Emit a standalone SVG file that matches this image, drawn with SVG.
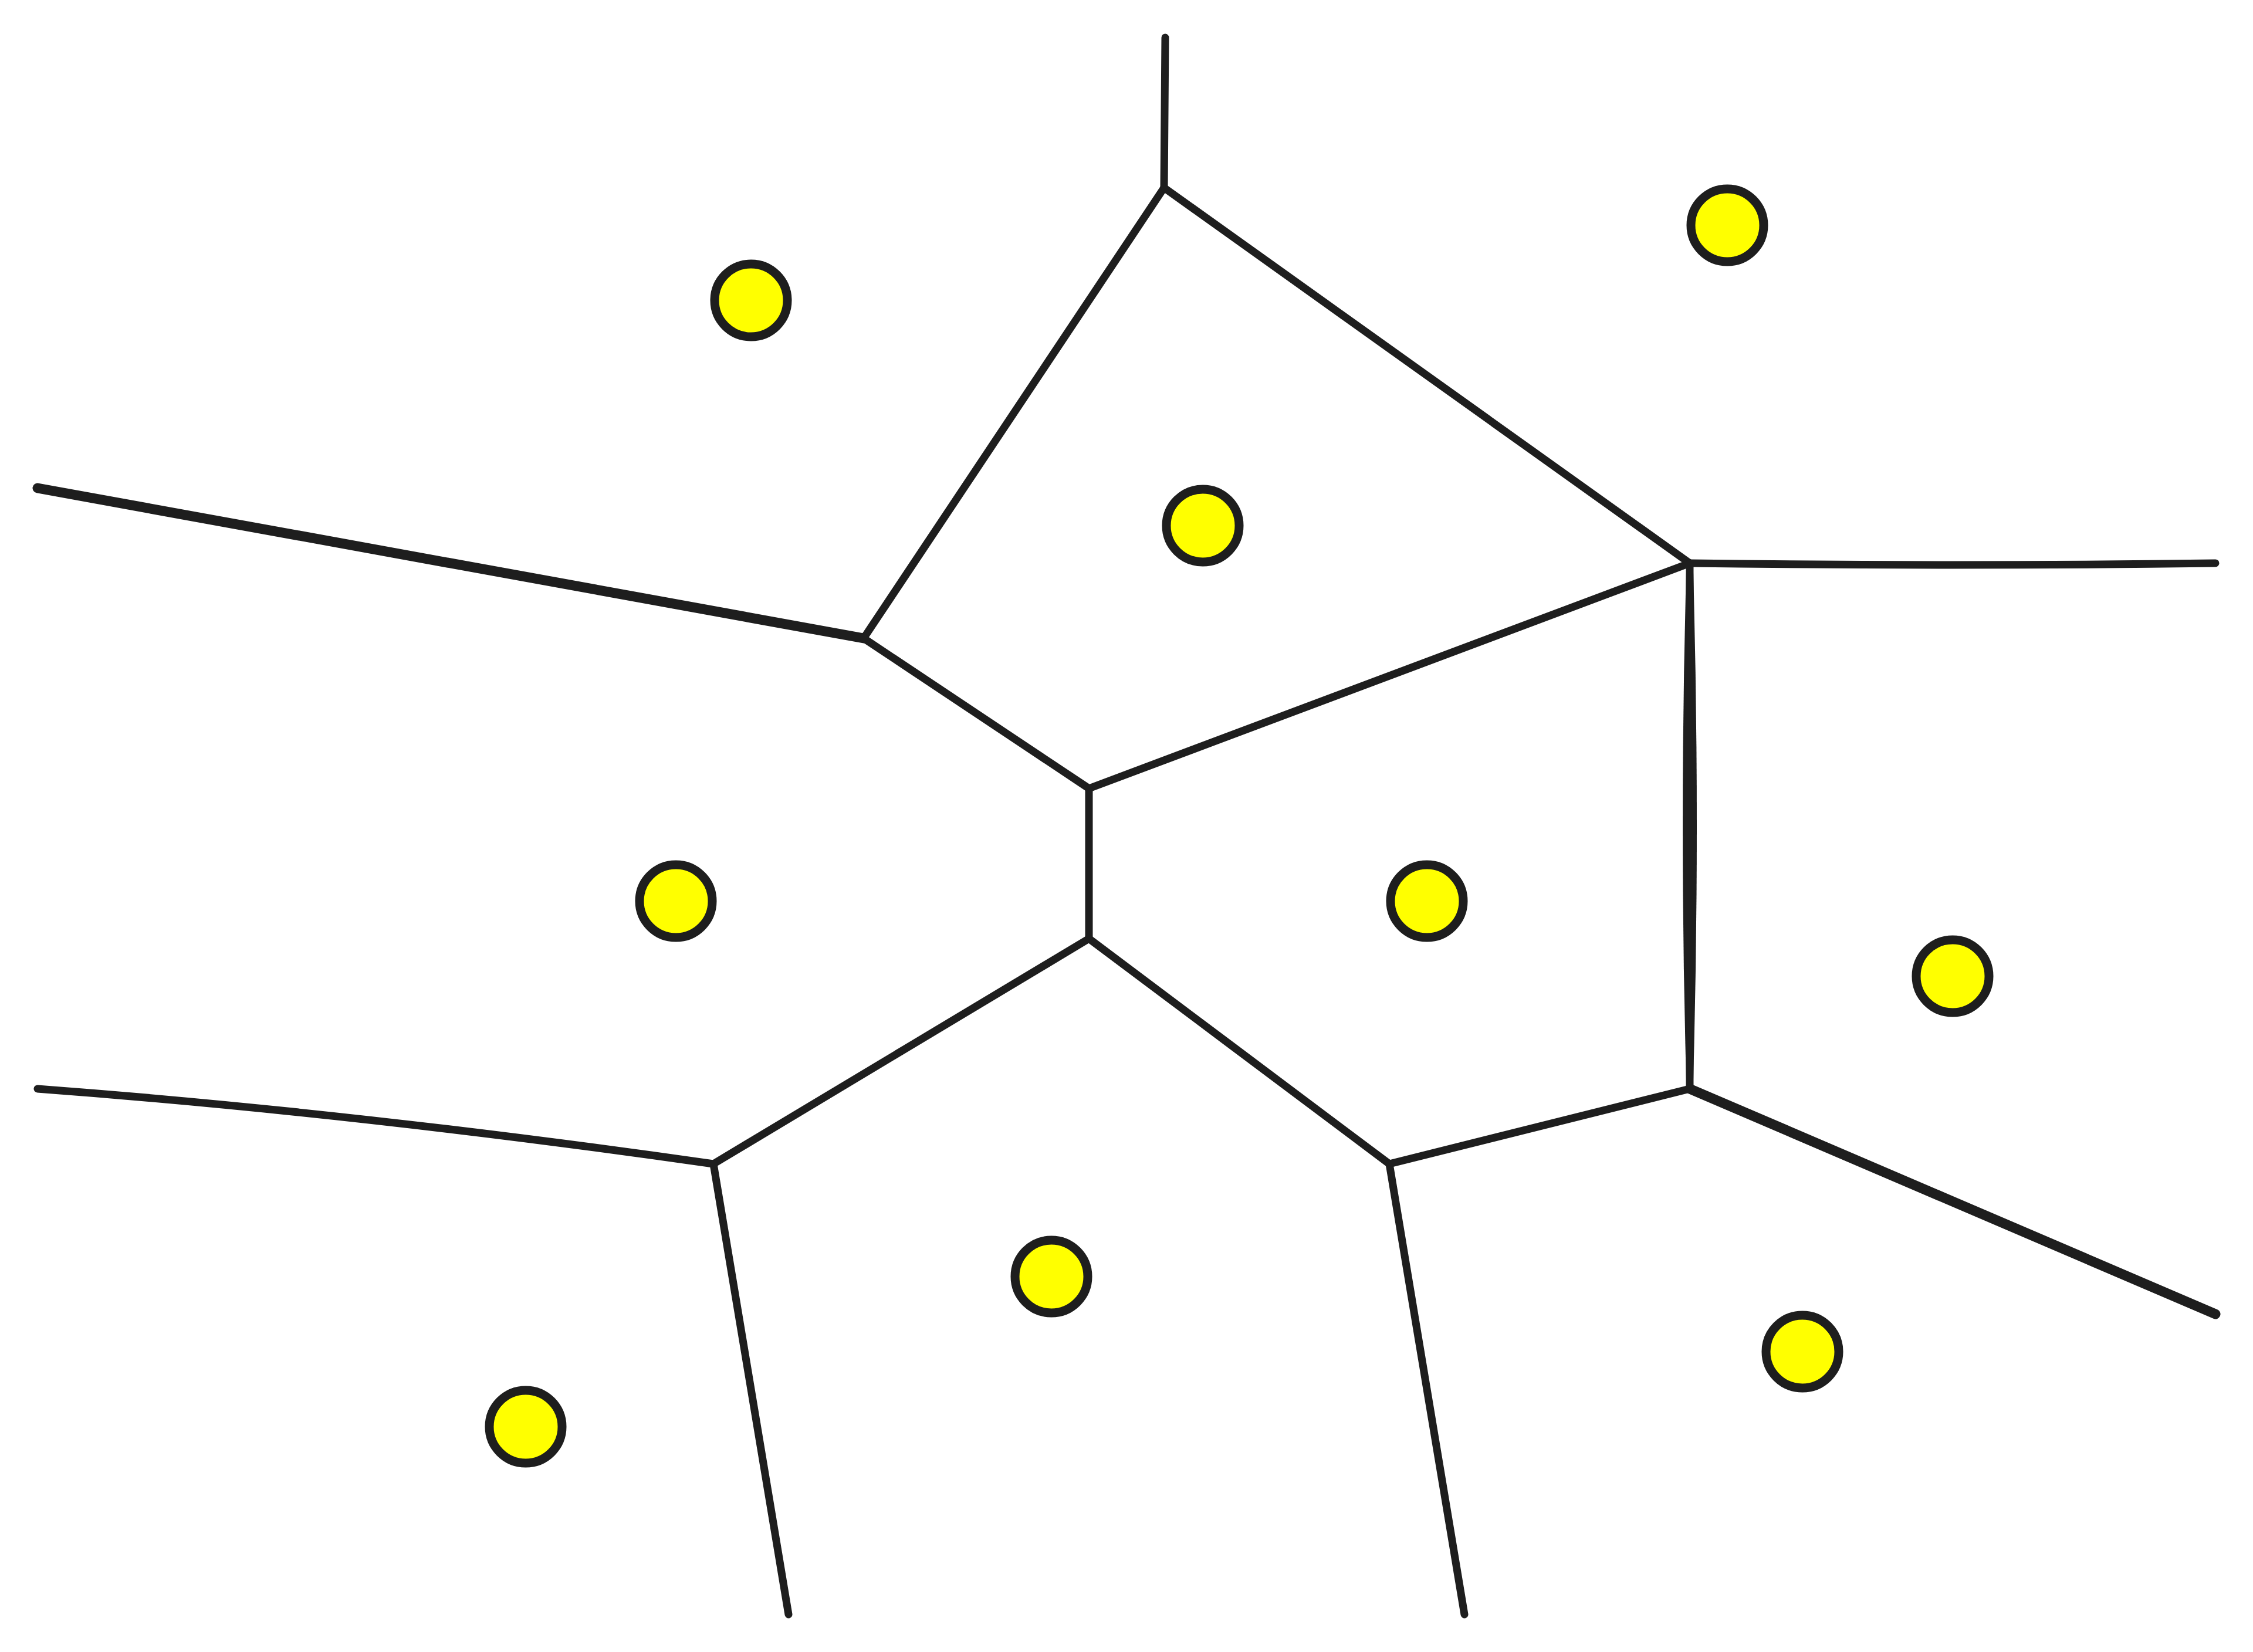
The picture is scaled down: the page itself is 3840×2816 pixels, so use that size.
<svg xmlns="http://www.w3.org/2000/svg" width="3840" height="2816" viewBox="0 0 3840 2816">
<style>
.e{fill:none;stroke:#1e1e1e;stroke-width:13;stroke-linecap:round;stroke-linejoin:round}
.w{stroke-width:17}
.t{fill:#1e1e1e;stroke:none}
.s{fill:#ffff00;stroke:#1e1e1e;stroke-width:15}
</style>
<rect width="3840" height="2816" fill="#ffffff"/>
<g id="edges">
<path class="e" d="M1986 64 L1984 320"/>
<path class="e" d="M1984 320 L1472 1088"/>
<path class="e" d="M1984 320 L2880 960"/>
<path class="e w" d="M64 832 L1472 1088"/>
<path class="e" d="M1472 1088 L1856 1344"/>
<path class="e" d="M1856 1344 L2880 960"/>
<path class="e" d="M2880 960 Q3320 966 3776 960"/>
<path class="e" d="M1856 1344 L1856 1600"/>
<path class="e" d="M2880 960 L2880 1856"/>
<path class="t" d="M2874 975 Q2862 1408 2874 1840 L2886 1840 Q2898 1408 2886 975 Z"/>
<path class="e" d="M1856 1600 L1216 1984"/>
<path class="e" d="M1856 1600 L2368 1984"/>
<path class="e" d="M2368 1984 L2880 1856"/>
<path class="e" d="M64 1856 Q600 1896 1216 1984"/>
<path class="e w" d="M2880 1856 L3776 2240"/>
<path class="e" d="M1216 1984 L1344 2752"/>
<path class="e" d="M2368 1984 L2496 2752"/>
</g>
<g id="sites">
<circle id="s1" class="s" cx="1280" cy="512" r="62"/>
<circle id="s2" class="s" cx="2944" cy="384" r="62"/>
<circle id="s3" class="s" cx="2050" cy="896" r="62"/>
<circle id="s4" class="s" cx="1152" cy="1536" r="62"/>
<circle id="s5" class="s" cx="2432" cy="1536" r="62"/>
<circle id="s6" class="s" cx="3328" cy="1664" r="62"/>
<circle id="s7" class="s" cx="1792" cy="2176" r="62"/>
<circle id="s8" class="s" cx="3072" cy="2304" r="62"/>
<circle id="s9" class="s" cx="896" cy="2432" r="62"/>
</g>
</svg>
